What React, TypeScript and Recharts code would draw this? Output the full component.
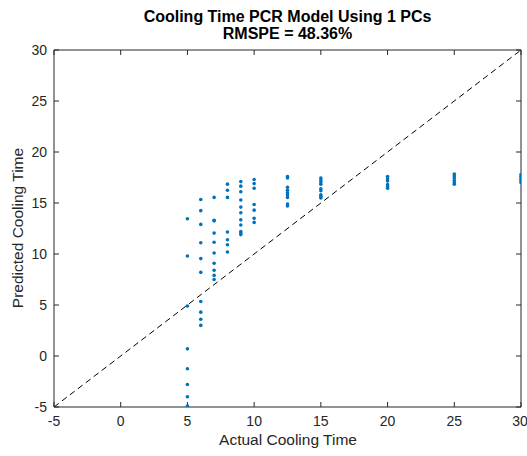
import {
  ScatterChart,
  Scatter,
  XAxis,
  YAxis,
  ReferenceLine,
  Label,
} from 'recharts';

const actual = [5, 6, 7, 8, 9, 10, 12.5, 15, 20, 25, 30];
const pred5 = [13.45, 9.8, 4.9, 0.7, -1.25, -2.8, -4.0, -4.9];
const pred6 = [15.35, 14.25, 12.9, 11.1, 9.55, 8.2, 5.35, 4.3, 3.6, 3.0];
const pred7 = [15.55, 13.3, 13.25, 12.05, 11.15, 10.1, 9.1, 8.4, 7.9, 7.5];
const pred8 = [16.85, 16.25, 15.55, 12.15, 11.4, 10.9, 10.2];
const pred9 = [17.1, 16.65, 16.1, 15.3, 14.6, 14.05, 13.35, 12.85, 12.2, 12.05, 11.9];
const pred10 = [17.3, 16.9, 16.45, 14.85, 14.3, 13.5, 13.1];
const pred12 = [17.6, 17.45, 16.55, 16.25, 16.0, 15.8, 15.55, 14.9, 14.7];
const pred15 = [17.45, 17.25, 17.05, 16.85, 16.4, 16.2, 15.8, 15.65, 15.5];
const pred20 = [17.6, 17.35, 17.15, 16.8, 16.6, 16.45];
const pred25 = [17.85, 17.65, 17.45, 17.2, 17.0, 16.85];
const pred30 = [17.8, 17.6, 17.4, 17.2, 17.0];

const predicted = [pred5, pred6, pred7, pred8, pred9, pred10, pred12, pred15, pred20, pred25, pred30];
const points = actual.flatMap((x, i) => predicted[i].map((y) => ({ x, y })));

const ticks = [-5, 0, 5, 10, 15, 20, 25, 30];
const domain: [number, number] = [-5, 30];

const axisColor = '#262626';
const font = '"Liberation Sans", Arial, sans-serif';

const Dot = (props: any) => <circle cx={props.cx} cy={props.cy} r={1.8} fill="#0072BD" />;
const NoTick = () => <g />;

export default function App() {
  return (
    <div style={{ position: 'absolute', left: 0, top: 0, width: 527, height: 456, background: '#fff', fontFamily: font }}>
      <div
        style={{
          position: 'absolute',
          left: 54,
          width: 467,
          top: 8,
          textAlign: 'center',
          fontWeight: 'bold',
          fontSize: 16,
          lineHeight: '17px',
          color: '#000',
        }}
      >
        Cooling Time PCR Model Using 1 PCs
        <br />
        RMSPE = 48.36%
      </div>
      <ScatterChart width={527} height={456} margin={{ top: 49, right: 5, bottom: 0, left: 0 }}>
        <XAxis
          type="number"
          dataKey="x"
          domain={domain}
          ticks={ticks}
          allowDataOverflow
          height={49}
          stroke={axisColor}
          tickSize={-5}
          tickMargin={14}
          tick={{ fill: axisColor, fontSize: 14, fontFamily: font }}
        >
          <Label
            content={() => (
              <text x={288} y={445} textAnchor="middle" fill={axisColor} fontSize={15.5} fontFamily={font}>
                Actual Cooling Time
              </text>
            )}
          />
        </XAxis>
        <XAxis
          xAxisId="top"
          orientation="top"
          type="number"
          dataKey="x"
          domain={domain}
          ticks={ticks}
          allowDataOverflow
          height={1}
          stroke={axisColor}
          tickSize={-5}
          tick={NoTick}
        />
        <YAxis
          type="number"
          dataKey="y"
          domain={domain}
          ticks={ticks}
          allowDataOverflow
          width={54}
          stroke={axisColor}
          tickSize={-5}
          tickMargin={12}
          tick={{ fill: axisColor, fontSize: 14, fontFamily: font }}
        >
          <Label
            content={() => (
              <text
                x={23}
                y={228}
                textAnchor="middle"
                fill={axisColor}
                fontSize={15.5}
                fontFamily={font}
                transform="rotate(-90 23 228)"
              >
                Predicted Cooling Time
              </text>
            )}
          />
        </YAxis>
        <YAxis
          yAxisId="right"
          orientation="right"
          type="number"
          dataKey="y"
          domain={domain}
          ticks={ticks}
          allowDataOverflow
          width={1}
          stroke={axisColor}
          tickSize={-5}
          tick={NoTick}
        />
        <ReferenceLine
          segment={[
            { x: -5, y: -5 },
            { x: 30, y: 30 },
          ]}
          stroke="#000"
          strokeWidth={1}
          strokeDasharray="6 4"
          ifOverflow="visible"
        />
        <Scatter data={points} shape={Dot} isAnimationActive={false} />
      </ScatterChart>
    </div>
  );
}
